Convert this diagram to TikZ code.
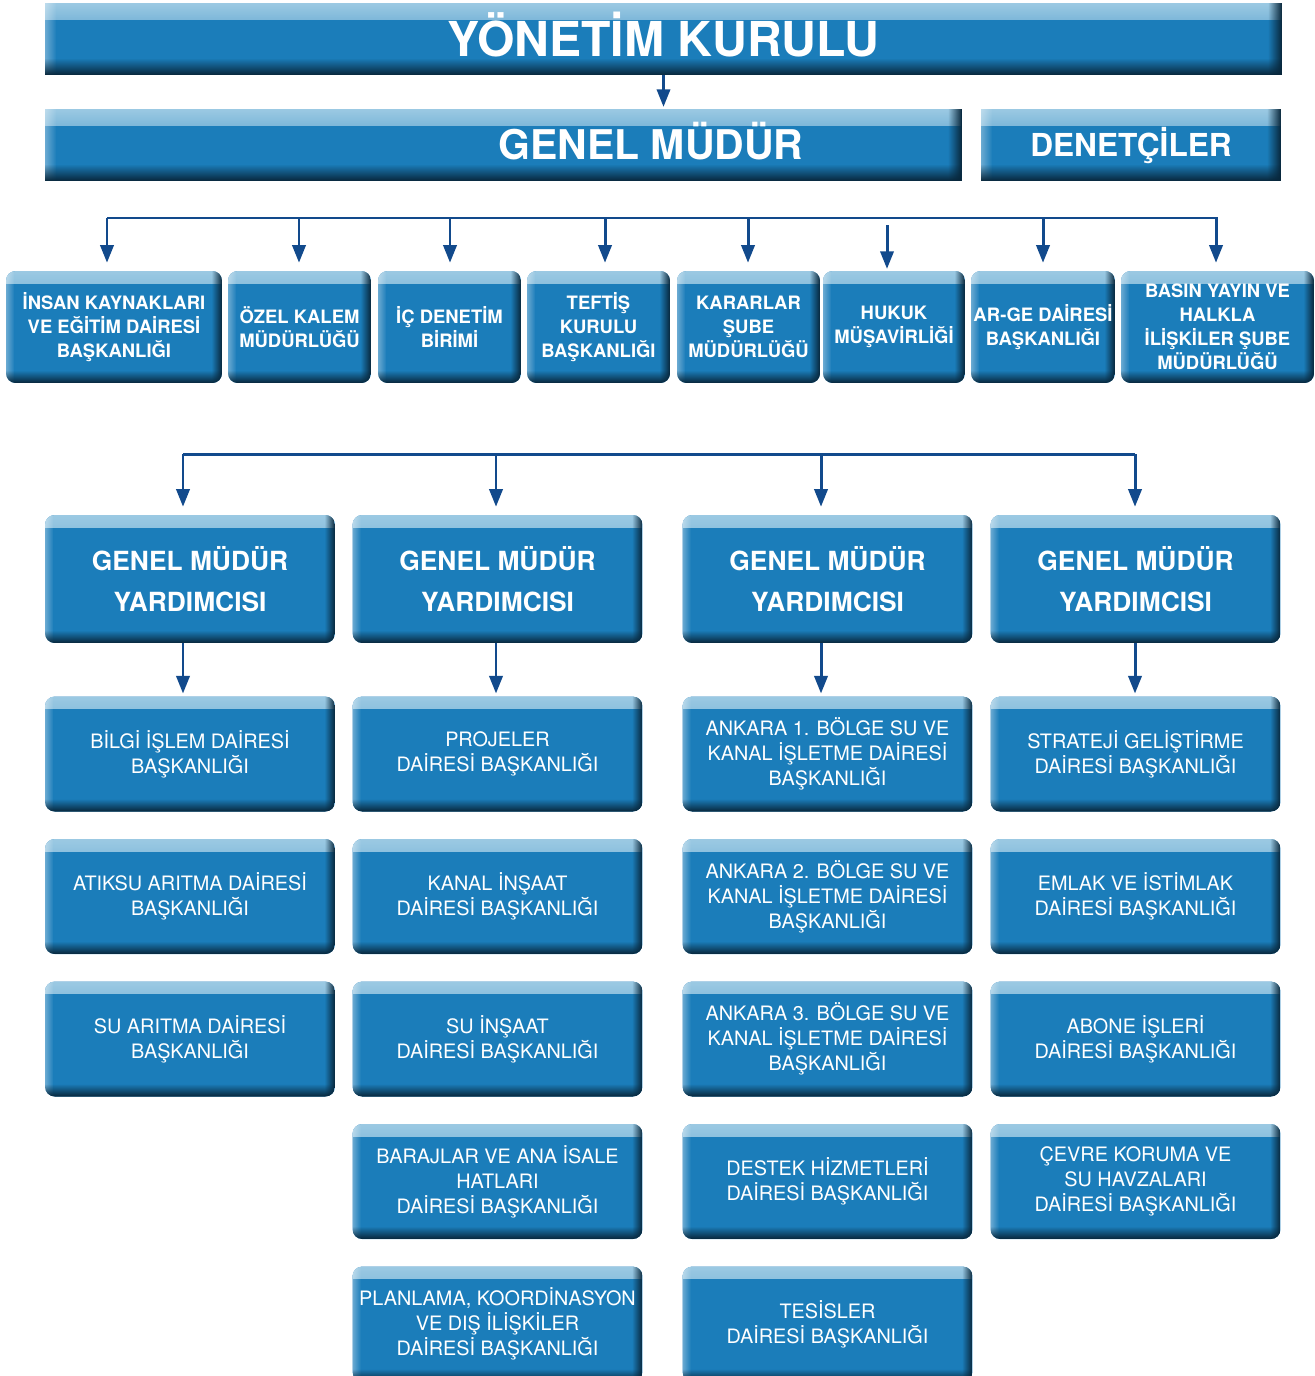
\documentclass[tikz,border=0pt]{standalone}
\usepackage{fontspec}
\setmainfont{TeX Gyre Heros}
\usetikzlibrary{arrows.meta,fadings}

\definecolor{dsiblue}{RGB}{27,125,186}
\definecolor{dsidark}{RGB}{8,38,58}
\definecolor{dsilight}{RGB}{170,210,232}
\definecolor{dsiarrow}{RGB}{18,74,140}

\tikzfading[name=fade n, top color=transparent!0, bottom color=transparent!100]
\tikzfading[name=fade s, top color=transparent!100, bottom color=transparent!0]
\tikzfading[name=fade e, left color=transparent!100, right color=transparent!0]
\tikzfading[name=fade w, left color=transparent!0, right color=transparent!100]

% bevelled edges of a panel
\newcommand\bvl[1]{%
 \fill[dsilight, opacity=.9, sharp corners, path fading=fade n] (path picture bounding box.north west) rectangle ([yshift=-1.2*#1]path picture bounding box.north east);
 \fill[white, opacity=.35, sharp corners, path fading=fade w] (path picture bounding box.north west) rectangle ([xshift=.8*#1]path picture bounding box.south west);
 \fill[dsidark, sharp corners, path fading=fade e] ([xshift=-#1]path picture bounding box.north east) rectangle (path picture bounding box.south east);
 \fill[dsidark, sharp corners, path fading=fade s] ([yshift=1.2*#1]path picture bounding box.south west) rectangle (path picture bounding box.south east);}

\tikzset{
 panel/.style={fill=dsiblue, text=white, align=center, inner sep=0pt, rounded corners=5.5pt, path picture={\bvl{6pt}}},
 bar/.style={panel, rounded corners=0pt, path picture={\bvl{8pt}}, minimum height=1.44cm, text depth=0pt},
 unit/.style={panel, font=\bfseries\fontsize{10.5}{13.6}\selectfont, minimum height=2.24cm},
 gmy/.style={panel, font=\bfseries\fontsize{15}{23.2}\selectfont, minimum width=5.8cm, minimum height=2.56cm},
 dept/.style={panel, font=\fontsize{11.3}{14.2}\selectfont, minimum width=5.8cm, minimum height=2.3cm},
 link/.style={dsiarrow, line width=1.7pt},
 arr/.style={link, -{Triangle[width=7.5pt,length=10pt]}, shorten >=4.5pt}
}

\begin{document}
\begin{tikzpicture}[x=0.02cm,y=-0.02cm]
 \useasboundingbox (0,0) rectangle (1315,1376);

 \node[bar, minimum width=24.74cm, text height=19.7pt, font=\bfseries\fontsize{27.4}{30}\selectfont] (yk) at (663.5,39) {YÖNETİM KURULU};
 \node[bar, minimum width=18.34cm, text height=16.8pt, font=\bfseries\fontsize{23.3}{26}\selectfont] (gm) at (503.5,145) {\hspace*{5.9cm}GENEL MÜDÜR};
 \node[bar, minimum width=6cm, text height=13pt, font=\bfseries\fontsize{18}{20}\selectfont] (den) at (1131,145) {DENETÇİLER};
 \draw[arr, shorten >=1pt] (yk.south) -- (yk.south |- gm.north);

 \node[unit, minimum width=4.32cm] (ik) at (114,327) {İNSAN KAYNAKLARI\\VE EĞİTİM DAİRESİ\\BAŞKANLIĞI};
 \node[unit, minimum width=2.86cm] (ozk) at (299.5,327) {ÖZEL KALEM\\MÜDÜRLÜĞÜ};
 \node[unit, minimum width=2.86cm] (icd) at (449.5,327) {İÇ DENETİM\\BİRİMİ};
 \node[unit, minimum width=2.86cm] (tef) at (598.5,327) {TEFTİŞ\\KURULU\\BAŞKANLIĞI};
 \node[unit, minimum width=2.86cm] (kar) at (748.5,327) {KARARLAR\\ŞUBE\\MÜDÜRLÜĞÜ};
 \node[unit, minimum width=2.84cm] (huk) at (894,327) {HUKUK\\MÜŞAVİRLİĞİ};
 \node[unit, minimum width=2.88cm] (arge) at (1043,327) {AR-GE DAİRESİ\\BAŞKANLIĞI};
 \node[unit, minimum width=3.86cm] (basin) at (1217.5,327) {BASIN YAYIN VE\\HALKLA\\İLİŞKİLER ŞUBE\\MÜDÜRLÜĞÜ};

 \coordinate (l1) at (107,218);
 \coordinate (r1) at (1218,218);
 \draw[link] (l1) -- (r1);
 \draw[arr] (l1) -- (l1 |- ik.north);
 \foreach \x/\n in {299/ozk, 450/icd, 605/tef, 748/kar, 1043/arge, 1216/basin}{
  \coordinate (t\n) at (\x,218);
  \draw[arr] (t\n) -- (t\n |- \n.north);
 }
 \coordinate (thuk) at (887,225);
 \draw[arr, shorten >=1pt] (thuk) -- (thuk |- huk.north);

 \foreach \x [count=\i] in {190,497.5,827.5,1135.5}
  \node[gmy] (gmy\i) at (\x,579) {GENEL MÜDÜR\\YARDIMCISI};

 \foreach \t [count=\i] in {{BİLGİ İŞLEM DAİRESİ\\BAŞKANLIĞI},{ATIKSU ARITMA DAİRESİ\\BAŞKANLIĞI},{SU ARITMA DAİRESİ\\BAŞKANLIĞI}}
  \node[dept] (d1\i) at (190,{754+142.5*(\i-1)}) {\t};
 \foreach \t [count=\i] in {{PROJELER\\DAİRESİ BAŞKANLIĞI},{KANAL İNŞAAT\\DAİRESİ BAŞKANLIĞI},{SU İNŞAAT\\DAİRESİ BAŞKANLIĞI},{BARAJLAR VE ANA İSALE\\HATLARI\\DAİRESİ BAŞKANLIĞI},{PLANLAMA, KOORDİNASYON\\VE DIŞ İLİŞKİLER\\DAİRESİ BAŞKANLIĞI}}
  \node[dept] (d2\i) at (497.5,{754+142.5*(\i-1)}) {\t};
 \foreach \t [count=\i] in {{ANKARA 1. BÖLGE SU VE\\KANAL İŞLETME DAİRESİ\\BAŞKANLIĞI},{ANKARA 2. BÖLGE SU VE\\KANAL İŞLETME DAİRESİ\\BAŞKANLIĞI},{ANKARA 3. BÖLGE SU VE\\KANAL İŞLETME DAİRESİ\\BAŞKANLIĞI},{DESTEK HİZMETLERİ\\DAİRESİ BAŞKANLIĞI},{TESİSLER\\DAİRESİ BAŞKANLIĞI}}
  \node[dept] (d3\i) at (827.5,{754+142.5*(\i-1)}) {\t};
 \foreach \t [count=\i] in {{STRATEJİ GELİŞTİRME\\DAİRESİ BAŞKANLIĞI},{EMLAK VE İSTİMLAK\\DAİRESİ BAŞKANLIĞI},{ABONE İŞLERİ\\DAİRESİ BAŞKANLIĞI},{ÇEVRE KORUMA VE\\SU HAVZALARI\\DAİRESİ BAŞKANLIĞI}}
  \node[dept] (d4\i) at (1135.5,{754+142.5*(\i-1)}) {\t};

 \coordinate (l2) at (183,454);
 \coordinate (r2) at (1135,454);
 \draw[link] (l2) -- (r2);
 \foreach \x [count=\i] in {183,496,821,1135}{
  \coordinate (b\i) at (\x,454);
  \draw[arr] (b\i) -- (b\i |- gmy\i.north);
  \draw[arr, shorten >=1.5pt] (b\i |- gmy\i.south) -- (b\i |- d\i1.north);
 }
\end{tikzpicture}
\end{document}
